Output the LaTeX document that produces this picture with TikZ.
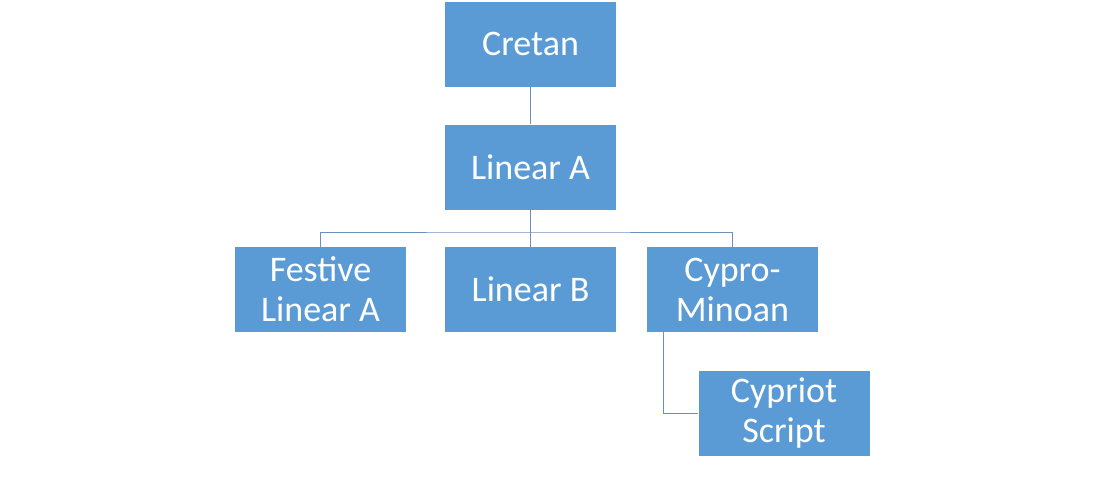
\documentclass[tikz,border=0pt]{standalone}
\usepackage{fontspec}
\setmainfont{Carlito}
\definecolor{boxblue}{HTML}{5B9BD5}
\definecolor{lineblue}{HTML}{6C90BC}
\begin{document}
\begin{tikzpicture}[x=1pt,y=-1pt,
  box/.style={fill=boxblue,draw=none,minimum width=171pt,minimum height=85pt,inner sep=0pt,
    text=white,align=center,font=\fontsize{36}{40}\selectfont},
  link/.style={draw=lineblue,line width=1pt}]
\useasboundingbox (0,0) rectangle (1104,477);
\node[box] (cretan) at (530.5,44) {Cretan};
\node[box] (lina) at (530.5,167) {Linear A};
\node[box] (fest) at (320.5,289.5) {Festive\\Linear A};
\node[box] (linb) at (530.5,289.5) {Linear B};
\node[box] (cypm) at (732.5,289.5) {Cypro-\\Minoan};
\node[box] (cyps) at (784,413) {Cypriot\\Script};
\draw[link] (cretan.south) -- (lina.north);
\coordinate (bar) at (530.5,232);
\draw[link] (lina.south) -- (bar);
\draw[link] (fest.north) |- (bar) -| (cypm.north);
\draw[link] (bar) -- (linb.north);
\draw[link] ([xshift=-69pt]cypm.south) |- (cyps.west);
\end{tikzpicture}
\end{document}
